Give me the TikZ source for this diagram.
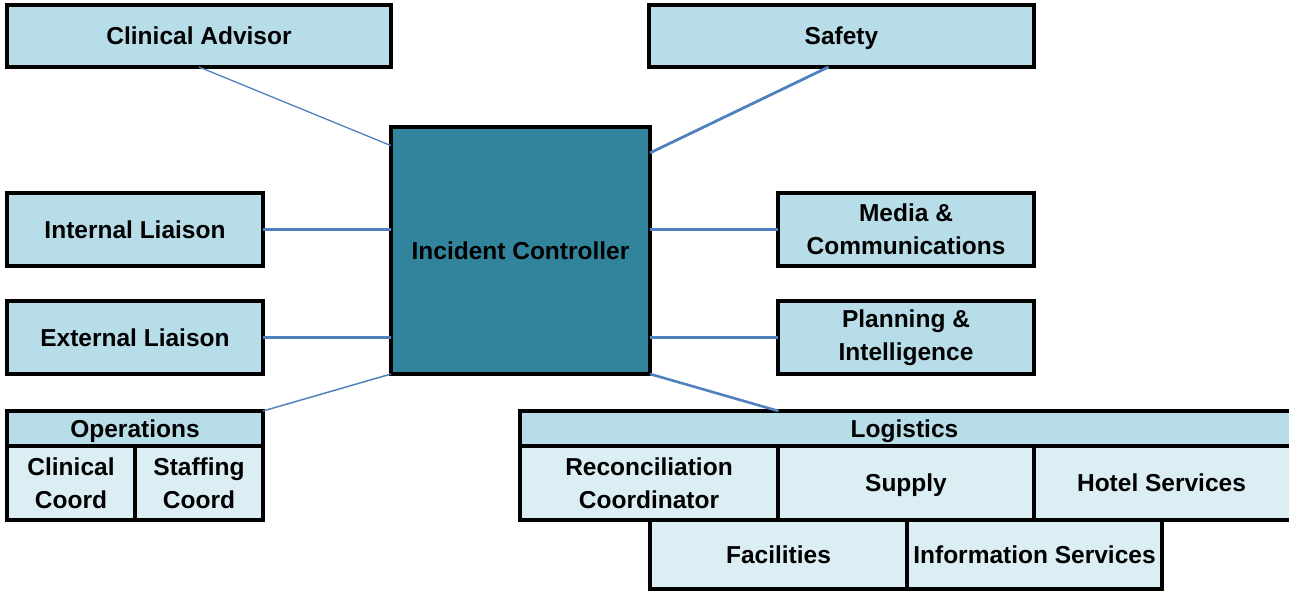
\documentclass[tikz,border=0pt]{standalone}
\usepackage{fontspec}
\setmainfont{Liberation Sans}
\usetikzlibrary{calc}
\definecolor{hdrfill}{HTML}{B7DDE8}
\definecolor{subfill}{HTML}{DAEEF3}
\definecolor{icfill}{HTML}{31849B}
\definecolor{linkblue}{HTML}{4F81BD}
\begin{document}
\begin{tikzpicture}[x=1bp,y=-1bp,
  box/.style={draw=black,line width=3.2bp,rectangle,inner sep=0pt,outer sep=0pt,
    align=center,font=\fontsize{24.5bp}{33bp}\selectfont\bfseries},
  hdr/.style={box,fill=hdrfill},
  sub/.style={box,fill=subfill},
  lbl/.style={font=\fontsize{24.5bp}{33bp}\selectfont\bfseries,inner sep=0pt,yshift=-2bp},
  link/.style={draw=linkblue,line width=2.2bp}]
\useasboundingbox (0,0) rectangle (1289,591);

% top row
\node[hdr,minimum width=384bp,minimum height=62bp] (ca) at (199,36) {Clinical Advisor};
\node[hdr,minimum width=385bp,minimum height=62bp] (saf) at (841.5,36) {};
\node[lbl] at (841.5,36) {Safety\strut};

% central controller
\node[box,fill=icfill,minimum width=259bp,minimum height=247bp] (ic) at (520.5,250.5) {Incident Controller};

% liaison and staff boxes
\node[hdr,minimum width=256bp,minimum height=73bp] (il) at (135,229.5) {Internal Liaison};
\node[hdr,minimum width=256bp,minimum height=73bp] (el) at (135,337.5) {External Liaison};
\node[hdr,minimum width=256bp,minimum height=73bp] (med) at (906,229.5) {Media \&\\Communications};
\node[hdr,minimum width=256bp,minimum height=73bp] (pln) at (906,337.5) {Planning \&\\Intelligence};

% operations section
\node[hdr,minimum width=256bp,minimum height=35bp] (ops) at (135,428.5) {};
\node[lbl] at (135,428.5) {Operations\strut};
\node[sub,minimum width=128bp,minimum height=74bp] (cc) at (71,483) {Clinical\\Coord};
\node[sub,minimum width=128bp,minimum height=74bp] (sc) at (199,483) {Staffing\\Coord};

% logistics section
\node[hdr,minimum width=774bp,minimum height=35bp] (lg) at (907,428.5) {};
\node[lbl] at (904.5,428.5) {Logistics\strut};
\node[sub,minimum width=258bp,minimum height=74bp] (rec) at (649,483) {Reconciliation\\Coordinator};
\node[sub,minimum width=256bp,minimum height=74bp] (sup) at (906,483) {};
\node[lbl] at (906,483) {Supply\strut};
\node[sub,minimum width=260bp,minimum height=74bp] (hot) at (1164,483) {};
\node[lbl] at (1161.5,483) {Hotel Services\strut};
\node[sub,minimum width=257bp,minimum height=69bp] (fac) at (778.5,554.5) {Facilities};
\node[sub,minimum width=255bp,minimum height=69bp] (inf) at (1034.5,554.5) {Information Services};

% connectors
\draw[link,line width=1.3bp] (ca.south) -- (ic.141);
\draw[link,line width=2.8bp] ($(saf.south)+(-13,0)$) -- (ic.37);
\draw[link] (il.east) -- (il.east -| ic.west);
\draw[link] (el.east) -- (el.east -| ic.west);
\draw[link,line width=1.5bp] (ops.north east) -- (ic.south west);
\draw[link] (med.west -| ic.east) -- (med.west);
\draw[link] (pln.west -| ic.east) -- (pln.west);
\draw[link,line width=2.6bp] (ic.south east) -- (fac.north |- lg.north);
\end{tikzpicture}
\end{document}
